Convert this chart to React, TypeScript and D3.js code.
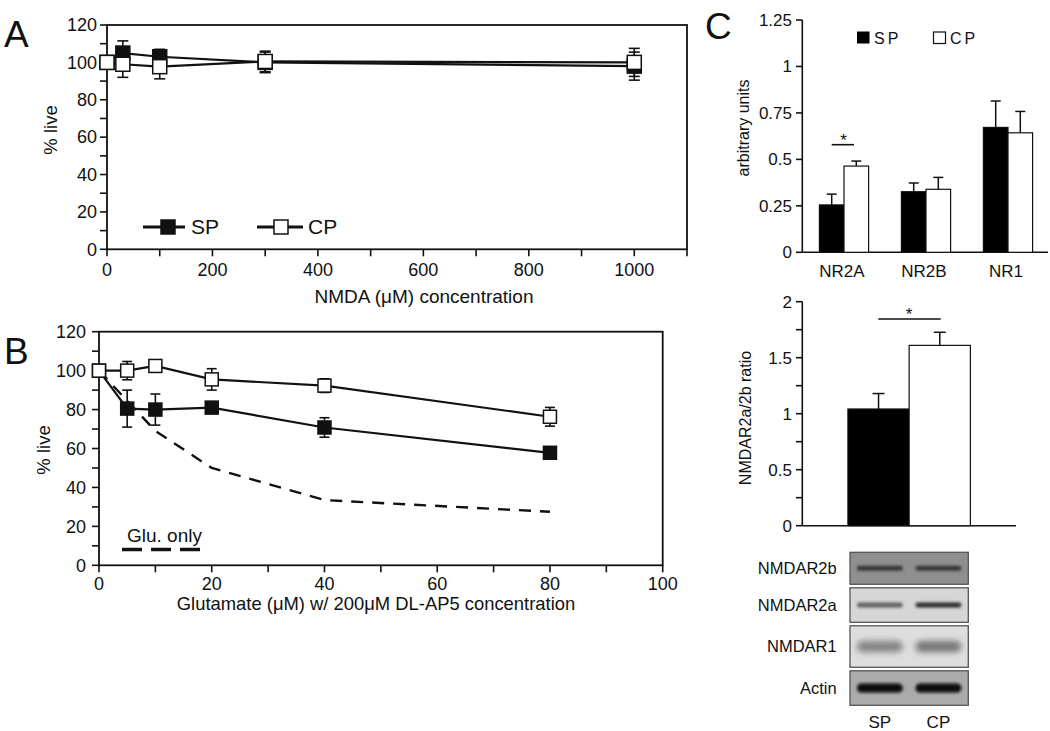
import React from 'react';
import * as d3 from 'd3';

const FONT = '"Liberation Sans", Arial, Helvetica, sans-serif';

// ---------- Panel A data ----------
const nmdaConc = [0, 30, 100, 300, 1000];
const nmdaSP = [100, 105, 103, 100, 98];
const nmdaSPErr = [0, 6.5, 4, 5.5, 7.5];
const nmdaCP = [100, 99, 97.7, 100.5, 100];
const nmdaCPErr = [0, 7, 6.5, 5.5, 7.5];
const aXTicks = [0, 200, 400, 600, 800, 1000];
const aXMinor = [0, 100, 200, 300, 400, 500, 600, 700, 800, 900, 1000, 1100];
const aYTicks = [0, 20, 40, 60, 80, 100, 120];
const aYMinor = [0, 10, 20, 30, 40, 50, 60, 70, 80, 90, 100, 110, 120];

// ---------- Panel B data ----------
const gluConc = [0, 5, 10, 20, 40, 80];
const gluSP = [100, 80.5, 80, 81, 70.8, 57.8];
const gluSPErr = [0, 9.5, 8, 2, 5, 1];
const gluCP = [100, 100, 102.4, 95.5, 92.3, 76.3];
const gluCPErr = [0, 4.7, 1.2, 5.5, 3.5, 4.8];
const gluOnlyConc = [0, 10, 20, 40, 80];
const gluOnly = [100, 69, 50, 33.5, 27.5];
const bXTicks = [0, 20, 40, 60, 80, 100];
const bXMinor = [0, 10, 20, 30, 40, 50, 60, 70, 80, 90, 100];
const bYTicks = [0, 20, 40, 60, 80, 100, 120];
const bYMinor = [0, 10, 20, 30, 40, 50, 60, 70, 80, 90, 100, 110, 120];

// ---------- Panel C data ----------
const receptors = ['NR2A', 'NR2B', 'NR1'];
const recSP = [0.255, 0.326, 0.672];
const recSPErr = [0.058, 0.047, 0.142];
const recCP = [0.464, 0.339, 0.643];
const recCPErr = [0.027, 0.064, 0.115];
const cYTicks = [0, 0.25, 0.5, 0.75, 1, 1.25];

const ratioGroups = ['SP', 'CP'];
const ratioVals = [1.042, 1.61];
const ratioErr = [0.138, 0.117];
const ratioMinor = [0, 0.25, 0.5, 0.75, 1, 1.25, 1.5, 1.75, 2];
const ratioTicks = [0, 0.5, 1, 1.5, 2];

// ---------- Western blot ----------
const blotRows = ['NMDAR2b', 'NMDAR2a', 'NMDAR1', 'Actin'];
const blotLanes = ['SP', 'CP'];
const blotBg = [0.56, 0.84, 0.87, 0.67]; // background lightness
const blotSP = [0.62, 0.55, 0.42, 0.95]; // band darkness
const blotCP = [0.62, 0.78, 0.48, 0.95];

const fmt = (v: number) => String(v);

function ErrBar({ x, y0, y1, w, sw = 1.6 }: { x: number; y0: number; y1: number; w: number; sw?: number }) {
  return (
    <g stroke="#111" strokeWidth={sw}>
      <line x1={x} x2={x} y1={y0} y2={y1} />
      <line x1={x - w / 2} x2={x + w / 2} y1={y1} y2={y1} />
    </g>
  );
}

function PanelA() {
  const x = d3.scaleLinear().domain([0, 1100]).range([107, 687]);
  const y = d3.scaleLinear().domain([0, 120]).range([249.3, 25]);
  const line = d3.line<number>().x((_, i) => x(nmdaConc[i])).y((d) => y(d));
  const ms = 14;
  return (
    <g fontFamily={FONT}>
      <rect x={x(0)} y={y(120)} width={x(1100) - x(0)} height={y(0) - y(120)} fill="none" stroke="#111" strokeWidth={1.8} />
      {aYMinor.map((t) => (
        <line key={'ym' + t} x1={x(0) - 7} x2={x(0)} y1={y(t)} y2={y(t)} stroke="#111" strokeWidth={1.6} />
      ))}
      {aYTicks.map((t) => (
        <text key={'yt' + t} x={x(0) - 10} y={y(t)} dy="0.35em" textAnchor="end" fontSize={18} fill="#111">{fmt(t)}</text>
      ))}
      {aXMinor.map((t) => (
        <line key={'xm' + t} x1={x(t)} x2={x(t)} y1={y(0)} y2={y(0) + 7} stroke="#111" strokeWidth={1.6} />
      ))}
      {aXTicks.map((t) => (
        <text key={'xt' + t} x={x(t)} y={276} textAnchor="middle" fontSize={18} fill="#111">{fmt(t)}</text>
      ))}
      <text x={424} y={303} textAnchor="middle" fontSize={19} fill="#111">NMDA ({'\u03bc'}M) concentration</text>
      <text transform={`translate(57,130) rotate(-90)`} textAnchor="middle" fontSize={18.5} fill="#111">% live</text>
      <text x={4} y={47} fontSize={37} fill="#111">A</text>

      <path d={line(nmdaSP) || ''} fill="none" stroke="#111" strokeWidth={2.2} />
      <path d={line(nmdaCP) || ''} fill="none" stroke="#111" strokeWidth={2.2} />
      {nmdaConc.map((c, i) => nmdaSPErr[i] > 0 && (
        <g key={'e' + i}>
          <ErrBar x={x(c)} y0={y(nmdaSP[i])} y1={y(nmdaSP[i] + nmdaSPErr[i])} w={11} />
          <ErrBar x={x(c)} y0={y(nmdaSP[i])} y1={y(nmdaSP[i] - nmdaSPErr[i])} w={11} />
          <ErrBar x={x(c)} y0={y(nmdaCP[i])} y1={y(nmdaCP[i] + nmdaCPErr[i])} w={11} />
          <ErrBar x={x(c)} y0={y(nmdaCP[i])} y1={y(nmdaCP[i] - nmdaCPErr[i])} w={11} />
        </g>
      ))}
      {nmdaConc.map((c, i) => (
        <rect key={'sp' + i} x={x(c) - ms / 2} y={y(nmdaSP[i]) - ms / 2} width={ms} height={ms} fill="#111" stroke="#111" strokeWidth={1.5} />
      ))}
      {nmdaConc.map((c, i) => (
        <rect key={'cp' + i} x={x(c) - ms / 2} y={y(nmdaCP[i]) - ms / 2} width={ms} height={ms} fill="#fff" stroke="#111" strokeWidth={1.5} />
      ))}
      {/* legend */}
      <line x1={143} x2={185} y1={227} y2={227} stroke="#111" strokeWidth={3} />
      <rect x={168 - 7} y={227 - 7} width={14} height={14} fill="#111" stroke="#111" strokeWidth={1.5} />
      <text x={191} y={234} fontSize={21} fill="#111">SP</text>
      <line x1={257} x2={303} y1={227} y2={227} stroke="#111" strokeWidth={3} />
      <rect x={281 - 7} y={227 - 7} width={14} height={14} fill="#fff" stroke="#111" strokeWidth={1.5} />
      <text x={308} y={234} fontSize={21} fill="#111">CP</text>
    </g>
  );
}

function PanelB() {
  const x = d3.scaleLinear().domain([0, 100]).range([99, 662.7]);
  const y = d3.scaleLinear().domain([0, 120]).range([565.3, 331.7]);
  const line = (xs: number[]) => d3.line<number>().x((_, i) => x(xs[i])).y((d) => y(d));
  const ms = 13;
  return (
    <g fontFamily={FONT}>
      <rect x={x(0)} y={y(120)} width={x(100) - x(0)} height={y(0) - y(120)} fill="none" stroke="#111" strokeWidth={1.8} />
      {bYMinor.map((t) => (
        <line key={'ym' + t} x1={x(0) - 7} x2={x(0)} y1={y(t)} y2={y(t)} stroke="#111" strokeWidth={1.6} />
      ))}
      {bYTicks.map((t) => (
        <text key={'yt' + t} x={x(0) - 13} y={y(t)} dy="0.35em" textAnchor="end" fontSize={18} fill="#111">{fmt(t)}</text>
      ))}
      {bXMinor.map((t) => (
        <line key={'xm' + t} x1={x(t)} x2={x(t)} y1={y(0)} y2={y(0) + 7} stroke="#111" strokeWidth={1.6} />
      ))}
      {bXTicks.map((t) => (
        <text key={'xt' + t} x={x(t)} y={590} textAnchor="middle" fontSize={18} fill="#111">{fmt(t)}</text>
      ))}
      <text x={376} y={610} textAnchor="middle" fontSize={18.4} fill="#111">Glutamate ({'\u03bc'}M) w/ 200{'\u03bc'}M DL-AP5 concentration</text>
      <text transform={`translate(50,450) rotate(-90)`} textAnchor="middle" fontSize={18.5} fill="#111">% live</text>
      <text x={4} y={364} fontSize={37} fill="#111">B</text>

      <path d={line(gluOnlyConc)(gluOnly) || ''} fill="none" stroke="#111" strokeWidth={2.4} strokeDasharray="12,9" />
      <path d={line(gluConc)(gluSP) || ''} fill="none" stroke="#111" strokeWidth={2.2} />
      <path d={line(gluConc)(gluCP) || ''} fill="none" stroke="#111" strokeWidth={2.2} />
      {gluConc.map((c, i) => (
        <g key={'e' + i}>
          {gluSPErr[i] > 0 && <ErrBar x={x(c)} y0={y(gluSP[i])} y1={y(gluSP[i] + gluSPErr[i])} w={10} />}
          {gluSPErr[i] > 0 && <ErrBar x={x(c)} y0={y(gluSP[i])} y1={y(gluSP[i] - gluSPErr[i])} w={10} />}
          {gluCPErr[i] > 0 && <ErrBar x={x(c)} y0={y(gluCP[i])} y1={y(gluCP[i] + gluCPErr[i])} w={10} />}
          {gluCPErr[i] > 0 && <ErrBar x={x(c)} y0={y(gluCP[i])} y1={y(gluCP[i] - gluCPErr[i])} w={10} />}
        </g>
      ))}
      {gluConc.map((c, i) => (
        <rect key={'sp' + i} x={x(c) - ms / 2} y={y(gluSP[i]) - ms / 2} width={ms} height={ms} fill="#111" stroke="#111" strokeWidth={1.5} />
      ))}
      {gluConc.map((c, i) => (
        <rect key={'cp' + i} x={x(c) - ms / 2} y={y(gluCP[i]) - ms / 2} width={ms} height={ms} fill="#fff" stroke="#111" strokeWidth={1.5} />
      ))}
      <text x={127} y={542} fontSize={19} fill="#111">Glu. only</text>
      <line x1={122} x2={200} y1={549.5} y2={549.5} stroke="#111" strokeWidth={3.5} strokeDasharray="20,9" />
    </g>
  );
}

function PanelC() {
  const y = d3.scaleLinear().domain([0, 1.25]).range([252.3, 20]);
  const xg = d3.scaleBand<string>().domain(receptors).range([803, 1049]).paddingInner(0.4).paddingOuter(0.2);
  const xs = d3.scaleBand<string>().domain(['SP', 'CP']).range([0, xg.bandwidth()]);
  const bw = xs.bandwidth();
  return (
    <g fontFamily={FONT}>
      <text x={705} y={39} fontSize={37} fill="#111">C</text>
      <line x1={802.3} x2={802.3} y1={y(1.25)} y2={y(0)} stroke="#111" strokeWidth={1.6} />
      <line x1={802.3} x2={1048} y1={y(0)} y2={y(0)} stroke="#111" strokeWidth={1.6} />
      {cYTicks.map((t) => (
        <g key={t}>
          <line x1={796} x2={802.3} y1={y(t)} y2={y(t)} stroke="#111" strokeWidth={1.6} />
          <text x={792} y={y(t)} dy="0.35em" textAnchor="end" fontSize={17} fill="#111">{fmt(t)}</text>
        </g>
      ))}
      <text transform={`translate(749,128) rotate(-90)`} textAnchor="middle" fontSize={16} fill="#111">arbitrary units</text>
      {receptors.map((r, i) => {
        const x0 = xg(r) || 0;
        const xsp = x0 + (xs('SP') || 0);
        const xcp = x0 + (xs('CP') || 0);
        return (
          <g key={r}>
            <ErrBar x={xsp + bw / 2} y0={y(recSP[i])} y1={y(recSP[i] + recSPErr[i])} w={10} sw={1.5} />
            <ErrBar x={xcp + bw / 2} y0={y(recCP[i])} y1={y(recCP[i] + recCPErr[i])} w={10} sw={1.5} />
            <rect x={xsp} y={y(recSP[i])} width={bw} height={y(0) - y(recSP[i])} fill="#000" stroke="#111" strokeWidth={1.2} />
            <rect x={xcp} y={y(recCP[i])} width={bw} height={y(0) - y(recCP[i])} fill="#fff" stroke="#111" strokeWidth={1.2} />
            <text x={x0 + xg.bandwidth() / 2 - 2} y={277} textAnchor="middle" fontSize={17} fill="#111">{r}</text>
          </g>
        );
      })}
      <line x1={831.7} x2={854} y1={144.7} y2={144.7} stroke="#111" strokeWidth={1.6} />
      <text x={843.5} y={146} textAnchor="middle" fontSize={17} fill="#111">*</text>
      {/* legend */}
      <rect x={857} y={31.5} width={12.5} height={12} fill="#000" />
      <text x={874} y={43.5} fontSize={16} letterSpacing={3} fill="#111">SP</text>
      <rect x={933.5} y={32} width={12} height={11.5} fill="#fff" stroke="#111" strokeWidth={1.2} />
      <text x={950} y={43.5} fontSize={16} letterSpacing={3} fill="#111">CP</text>
    </g>
  );
}

function PanelRatio() {
  const y = d3.scaleLinear().domain([0, 2]).range([525.7, 301.7]);
  const x = d3.scaleBand<string>().domain(ratioGroups).range([802.3, 1016]).paddingInner(0).paddingOuter(0.745);
  const bw = x.bandwidth();
  const fills = ['#000', '#fff'];
  return (
    <g fontFamily={FONT}>
      <line x1={802.3} x2={802.3} y1={y(2)} y2={y(0)} stroke="#111" strokeWidth={1.6} />
      <line x1={802.3} x2={1016} y1={y(0)} y2={y(0)} stroke="#111" strokeWidth={1.6} />
      {ratioMinor.map((t) => (
        <line key={'m' + t} x1={796} x2={802.3} y1={y(t)} y2={y(t)} stroke="#111" strokeWidth={1.6} />
      ))}
      {ratioTicks.map((t) => (
        <text key={'t' + t} x={792} y={y(t)} dy="0.35em" textAnchor="end" fontSize={17} fill="#111">{fmt(t)}</text>
      ))}
      <text transform={`translate(751,418) rotate(-90)`} textAnchor="middle" fontSize={16} fill="#111">NMDAR2a/2b ratio</text>
      {ratioGroups.map((g, i) => {
        const x0 = x(g) || 0;
        return (
          <g key={g}>
            <ErrBar x={x0 + bw / 2} y0={y(ratioVals[i])} y1={y(ratioVals[i] + ratioErr[i])} w={12} sw={1.5} />
            <rect x={x0} y={y(ratioVals[i])} width={bw} height={y(0) - y(ratioVals[i])} fill={fills[i]} stroke="#111" strokeWidth={1.2} />
          </g>
        );
      })}
      <line x1={878.3} x2={940.7} y1={319} y2={319} stroke="#111" strokeWidth={1.6} />
      <text x={909} y={320} textAnchor="middle" fontSize={17} fill="#111">*</text>
    </g>
  );
}

function Blot() {
  const rowHeights = [32, 34.5, 41.5, 34.5];
  const gap = 3.5;
  const top0 = 552.3;
  const tops: number[] = [];
  let acc = top0;
  rowHeights.forEach((h) => { tops.push(acc); acc += h + gap; });
  const lane = d3.scaleBand<string>().domain(blotLanes).range([850, 968.3]).paddingInner(0.08).paddingOuter(0.05);
  const gray = (l: number) => d3.interpolateRgb('#000', '#fff')(l);
  const bandH = [5, 5, 11, 9];
  return (
    <g fontFamily={FONT}>
      <defs>
        <filter id="blur1" x="-20%" y="-100%" width="140%" height="300%">
          <feGaussianBlur stdDeviation="1.4" />
        </filter>
        <filter id="blur2" x="-20%" y="-100%" width="140%" height="300%">
          <feGaussianBlur stdDeviation="3" />
        </filter>
      </defs>
      {blotRows.map((r, i) => {
        const t = tops[i];
        const h = rowHeights[i];
        const cy = t + h * 0.5;
        return (
          <g key={r}>
            <rect x={850} y={t} width={118.3} height={h} fill={gray(blotBg[i])} stroke="#555" strokeWidth={1.3} />
            {blotLanes.map((ln, j) => {
              const dark = j === 0 ? blotSP[i] : blotCP[i];
              const lx = lane(ln) || 0;
              return (
                <rect key={ln} x={lx + 4} y={cy - bandH[i] / 2} width={lane.bandwidth() - 8} height={bandH[i]} rx={bandH[i] / 2}
                  fill={gray(blotBg[i] * (1 - dark))} filter={i === 2 ? 'url(#blur2)' : 'url(#blur1)'} />
              );
            })}
            <text x={836.7} y={cy} dy="0.35em" textAnchor="end" fontSize={16.5} fill="#111">{r}</text>
          </g>
        );
      })}
      {blotLanes.map((ln) => (
        <text key={ln} x={(lane(ln) || 0) + lane.bandwidth() / 2} y={728} textAnchor="middle" fontSize={17} fill="#111">{ln}</text>
      ))}
    </g>
  );
}

export default function App() {
  return (
    <svg width={1050} height={731} viewBox="0 0 1050 731" style={{ position: 'absolute', left: 0, top: 0, background: '#fff' }}>
      <rect x={0} y={0} width={1050} height={731} fill="#fff" />
      <PanelA />
      <PanelB />
      <PanelC />
      <PanelRatio />
      <Blot />
    </svg>
  );
}
